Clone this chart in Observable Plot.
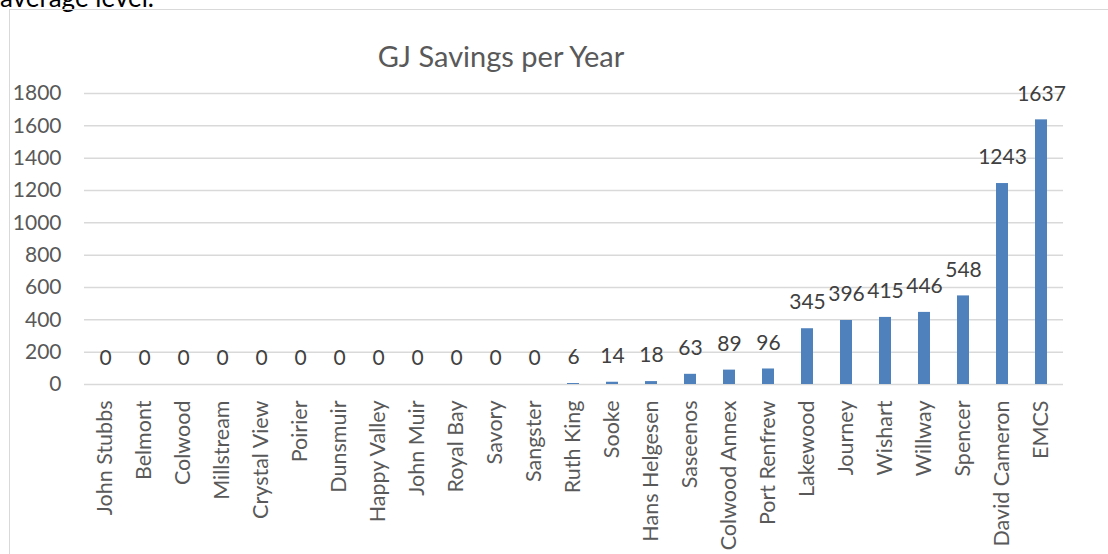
<!DOCTYPE html>
<html>
<head>
<meta charset="utf-8">
<script src="https://cdn.jsdelivr.net/npm/d3@7"></script>
<script src="https://cdn.jsdelivr.net/npm/@observablehq/plot@0.6"></script>
<style>
  html, body { margin: 0; padding: 0; background: #fff; overflow: hidden; }
  #wrap { position: relative; width: 1108px; height: 554px; font-family: Lato, "Open Sans", sans-serif; }
  #intro { position: absolute; left: 0; top: -19px; font-size: 26px; color: #000; white-space: nowrap; }
  #frame { position: absolute; left: 9px; top: 9px; width: 1120px; height: 600px; border: 1.5px solid #D9D9D9; box-sizing: border-box; }
  #title { position: absolute; left: 0; width: 1002px; top: 38px; text-align: center; font-size: 29px; color: #595959; }
  #chart { position: absolute; left: 0; top: 0; }
</style>
</head>
<body>
<div id="wrap">
  <div id="intro">average level.</div>
  <div id="frame"></div>
  <div id="chart"></div>
  <div id="title">GJ Savings per Year</div>
</div>
<script>
const schools = ["John Stubbs","Belmont","Colwood","Millstream","Crystal View","Poirier","Dunsmuir","Happy Valley","John Muir","Royal Bay","Savory","Sangster","Ruth King","Sooke","Hans Helgesen","Saseenos","Colwood Annex","Port Renfrew","Lakewood","Journey","Wishart","Willway","Spencer","David Cameron","EMCS"];
const savings = [0,0,0,0,0,0,0,0,0,0,0,0,6,14,18,63,89,96,345,396,415,446,548,1243,1637];
const yTicks = [0,200,400,600,800,1000,1200,1400,1600,1800];

const data = schools.map((s, i) => ({school: s, value: savings[i]}));

const chart = Plot.plot({
  width: 1108,
  height: 554,
  marginTop: 93,
  marginBottom: 170,
  marginLeft: 84,
  marginRight: 45,
  style: {fontFamily: "Lato, 'Open Sans', sans-serif", background: "transparent"},
  x: {domain: schools, paddingInner: 0.68, paddingOuter: 0.34, label: null},
  y: {domain: [0, 1800], label: null},
  marks: [
    Plot.gridY(yTicks, {stroke: "#D9D9D9", strokeOpacity: 1, strokeWidth: 1.5}),
    Plot.axisY(yTicks, {tickSize: 0, tickPadding: 23, fontSize: 21, fill: "#595959", label: null, tickFormat: d => String(d)}),
    Plot.axisX({tickSize: 0, tickPadding: 16, tickRotate: -90, fontSize: 21.5, fill: "#595959", label: null}),
    Plot.barY(data, {x: "school", y: "value", fill: "#4F81BD"}),
    Plot.text(data, {x: "school", y: "value", text: d => String(d.value), dy: -26, fontSize: 21, fill: "#404040"})
  ]
});
document.getElementById("chart").appendChild(chart);
</script>
</body>
</html>
